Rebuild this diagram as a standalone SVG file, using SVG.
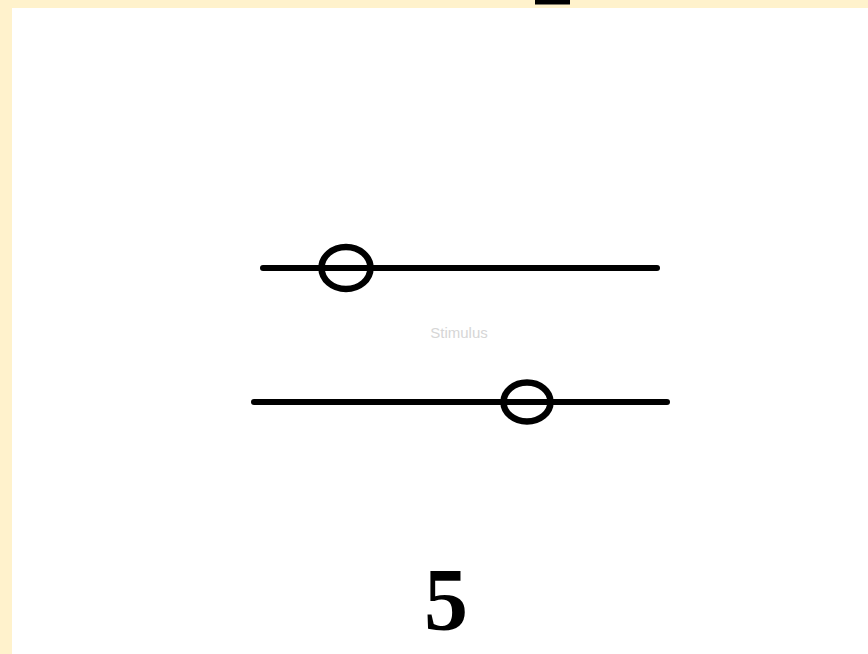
<svg xmlns="http://www.w3.org/2000/svg" width="868" height="654" viewBox="0 0 868 654">
<style>
.track{stroke:#000;stroke-width:6;stroke-linecap:round;fill:none}
.knob{stroke:#000;stroke-width:6.5;fill:none}
.lbl{font-family:"Liberation Sans",Arial,sans-serif;font-size:15px;fill:#d6d6d6}
.num{font-family:"Liberation Serif","Times New Roman",serif;font-weight:bold;font-size:88px;fill:#000}
</style>
<rect x="0" y="0" width="868" height="654" fill="#FFF2CC"/>
<rect x="12" y="8" width="856" height="646" fill="#FFFFFF"/>
<rect x="535" y="0" width="35" height="4.5" fill="#000"/>
<g id="connectors">
<line class="track" x1="263" y1="268" x2="657" y2="268"/>
<line class="track" x1="254" y1="402" x2="667" y2="402"/>
</g>
<g id="knob1"><ellipse class="knob" cx="346" cy="268" rx="24.5" ry="21"/></g>
<g id="knob2"><ellipse class="knob" cx="527" cy="402" rx="23.5" ry="19.5"/></g>
<g id="label"><text class="lbl" x="459" y="338" text-anchor="middle">Stimulus</text></g>
<g id="number"><text class="num" x="446" y="629" text-anchor="middle">5</text></g>
</svg>
